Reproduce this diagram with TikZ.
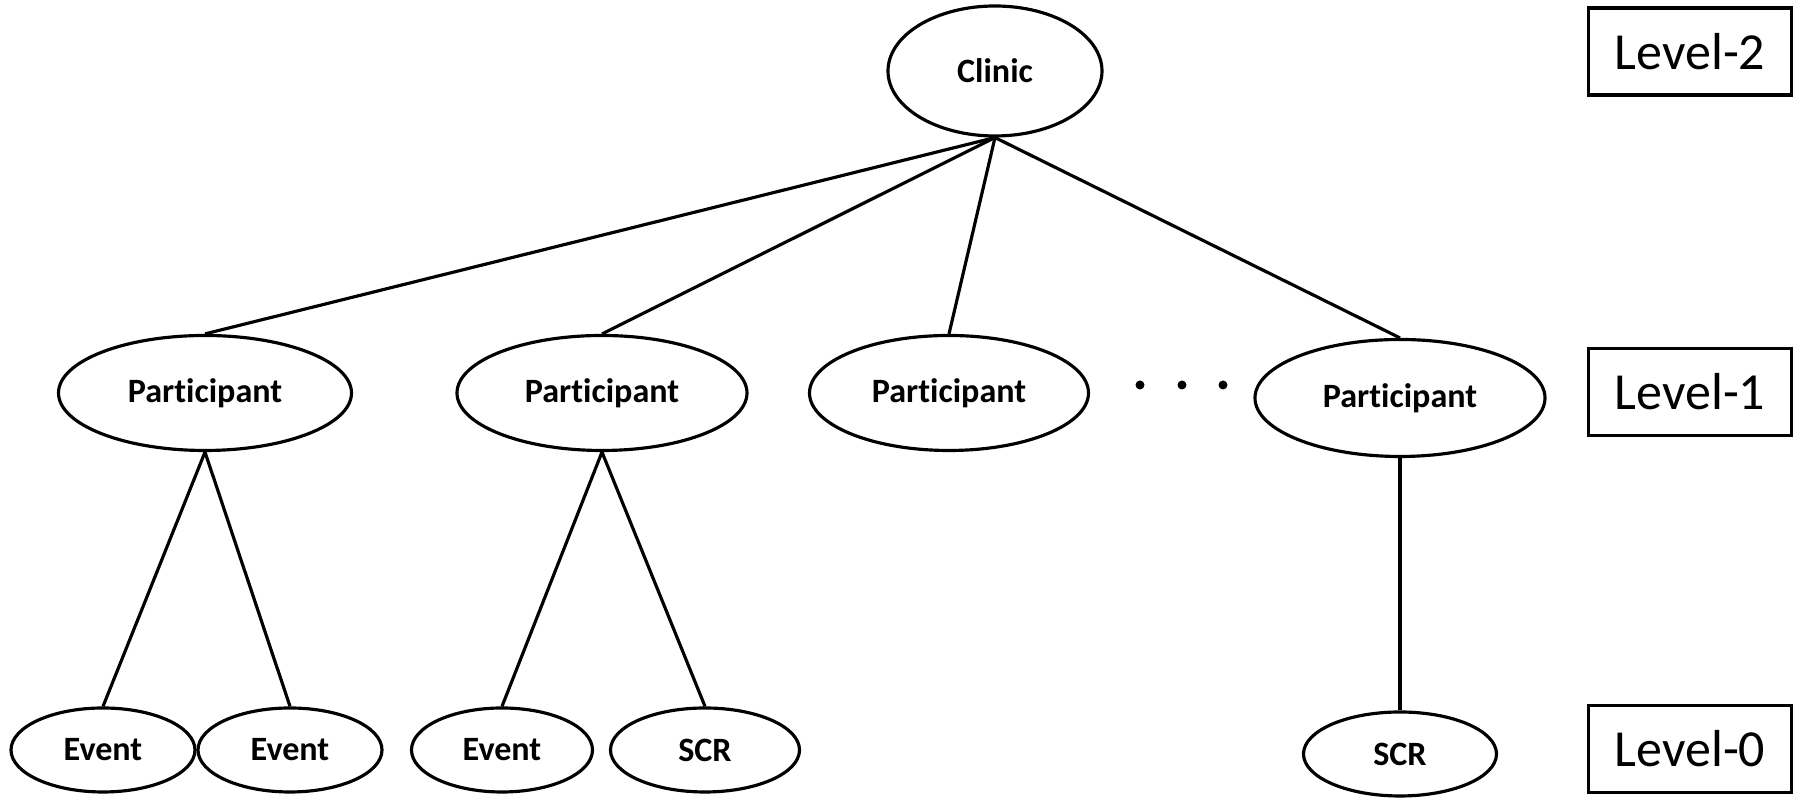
\documentclass[tikz,border=0pt]{standalone}
\usepackage{fontspec}
\setmainfont{Carlito}[Ligatures=NoCommon]
\usetikzlibrary{shapes.geometric}

\tikzset{
  entity/.style={draw, ellipse, line width=0.9pt, inner sep=0pt,
    font=\fontsize{9.7}{11}\selectfont\bfseries},
  levelbox/.style={draw, rectangle, line width=0.9pt, inner sep=0pt,
    minimum width=2.03cm, minimum height=0.87cm,
    font=\fontsize{14.8}{17}\selectfont},
  link/.style={line width=0.9pt}
}

\begin{document}
\begin{tikzpicture}
        \useasboundingbox (0,0) rectangle (18,8.06);

        % Level 2
        \node[entity, minimum width=2.14cm, minimum height=1.30cm] (clinic) at (9.95,7.35) {Clinic};

        % Level 1
        \node[entity, minimum width=2.93cm, minimum height=1.15cm] (p1) at (2.05,4.13) {Participant};
        \node[entity, minimum width=2.90cm, minimum height=1.15cm] (p2) at (6.02,4.13) {Participant};
        \node[entity, minimum width=2.79cm, minimum height=1.15cm] (p3) at (9.49,4.13) {Participant};
        \node[entity, minimum width=2.90cm, minimum height=1.17cm] (p4) at (14.00,4.08) {Participant};

        \foreach \x in {11.40,11.82,12.23} {
            \fill (\x,4.21) circle (0.045cm);
        }

        % Level 0
        \node[entity, minimum width=1.84cm, minimum height=0.84cm] (e1) at (1.03,0.56) {Event};
        \node[entity, minimum width=1.84cm, minimum height=0.84cm] (e2) at (2.90,0.56) {Event};
        \node[entity, minimum width=1.81cm, minimum height=0.84cm] (e3) at (5.02,0.56) {Event};
        \node[entity, minimum width=1.89cm, minimum height=0.84cm] (s1) at (7.05,0.56) {SCR};
        \node[entity, minimum width=1.93cm, minimum height=0.84cm] (s2) at (14.00,0.52) {SCR};

        % Links
        \foreach \p in {p1,p2,p3,p4} {
            \draw[link] (clinic.south) -- (\p.north);
        }
        \draw[link] (p1.south) -- (e1.north);
        \draw[link] (p1.south) -- (e2.north);
        \draw[link] (p2.south) -- (e3.north);
        \draw[link] (p2.south) -- (s1.north);
        \draw[link] (p4.south) -- (s2.north);

        % Level labels
        \node[levelbox] (lvl2) at (16.90,7.545) {Level-2};
        \node[levelbox] (lvl1) at (16.90,4.14) {Level-1};
        \node[levelbox] (lvl0) at (16.90,0.57) {Level-0};
\end{tikzpicture}
\end{document}
